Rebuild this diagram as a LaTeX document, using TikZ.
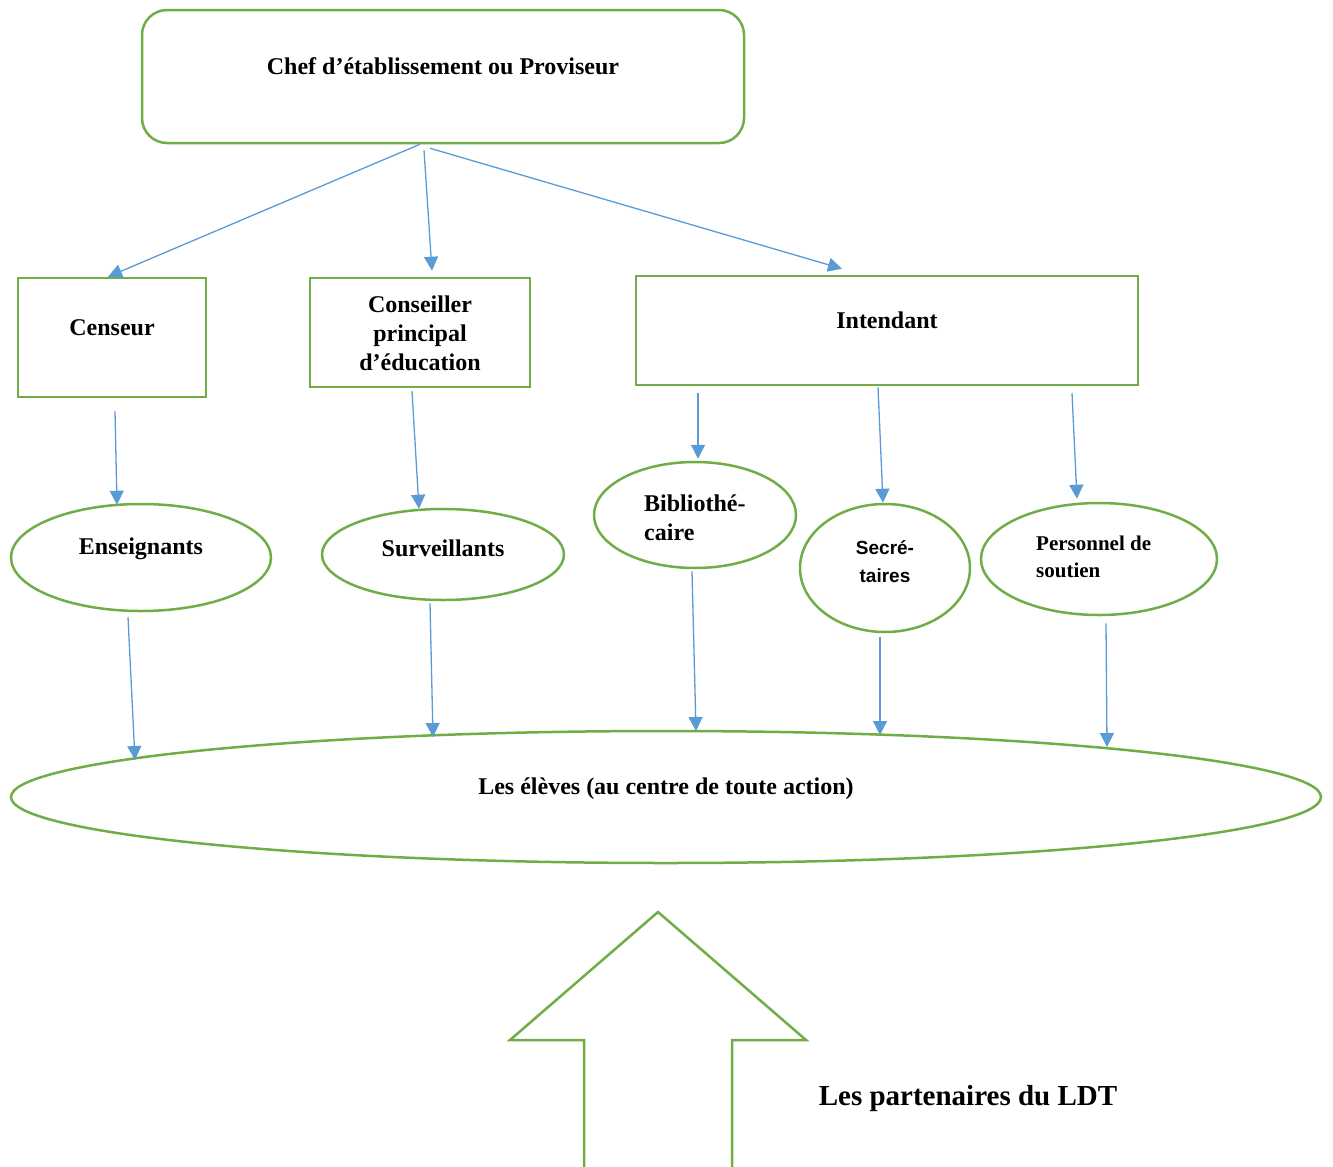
\documentclass[tikz,border=0pt]{standalone}
\usepackage{fontspec}
\setmainfont{Liberation Serif}
\newfontfamily\sansf{Liberation Sans}
\usetikzlibrary{shapes.geometric,arrows.meta}
\definecolor{grn}{HTML}{70AD47}
\definecolor{blu}{HTML}{5B9BD5}
\begin{document}
\begin{tikzpicture}[x=1pt,y=-1pt,
 box/.style={draw=grn,line width=2.5pt,rectangle,inner sep=0pt},
 oval/.style={draw=grn,line width=2.5pt,ellipse,inner sep=0pt},
 txt/.style={font=\fontsize{24}{29}\selectfont\bfseries,inner sep=0pt},
 conn/.style={draw=blu,line width=1.3pt,-{Triangle[length=14pt,width=14pt]}}]
\useasboundingbox (0,0) rectangle (1333,1167);

% boxes
\node[box,rounded corners=25pt,minimum width=602pt,minimum height=133pt] (chef) at (443,76.5) {};
\node[txt] (chefT) at (443,66) {Chef d’établissement ou Proviseur};
\node[box,minimum width=188pt,minimum height=119pt] (censeur) at (112,337.5) {};
\node[txt] (censT) at (112,328) {Censeur};
\node[box,minimum width=220pt,minimum height=109pt] (conseil) at (420,332.5) {};
\node[txt,align=center] (conseilT) at (420,333) {Conseiller\\principal\\d’éducation};
\node[box,minimum width=502pt,minimum height=109pt] (intend) at (887,330.5) {};
\node[txt] (intT) at (887,320) {Intendant};

% ellipses
\node[oval,minimum width=260pt,minimum height=107pt] (ens) at (141,557.5) {};
\node[txt] (ensT) at (141,549) {Enseignants};
\node[oval,minimum width=242pt,minimum height=91pt] (surv) at (443,554.5) {};
\node[txt] (survT) at (443,548) {Surveillants};
\node[oval,minimum width=202pt,minimum height=106pt] (bib) at (695,515) {};
\node[txt,align=left,anchor=west] (bibT) at (644,518) {Bibliothé-\\caire};
\node[oval,minimum width=170pt,minimum height=128pt] (sec) at (885,568) {};
\node[inner sep=0pt,align=center,font=\sansf\fontsize{19}{28}\selectfont\bfseries] (secT) at (885,562) {Secré-\\taires};
\node[oval,minimum width=236pt,minimum height=112pt] (pers) at (1099,559) {};
\node[inner sep=0pt,align=left,anchor=west,font=\fontsize{21}{27}\selectfont\bfseries] (persT) at (1036,557) {Personnel de\\soutien};
\node[oval,minimum width=1310pt,minimum height=132pt] (eleves) at (666,797) {};
\node[txt] (elevT) at (666,789) {Les élèves (au centre de toute action)};

% connectors
\draw[conn] ([xshift=-23pt]chef.south) -- ([xshift=-4pt]censeur.north);
\draw[conn] ([xshift=-19pt,yshift=-6pt]chef.south) -- ([xshift=12pt,yshift=6pt]conseil.north);
\draw[conn] ([xshift=-13pt,yshift=-4pt]chef.south) -- ([xshift=-45pt,yshift=6pt]intend.north);
\draw[conn] ([xshift=3pt,yshift=-13pt]censeur.south) -- ([xshift=-24pt,yshift=-2pt]ens.north);
\draw[conn] ([xshift=-8pt,yshift=-3pt]conseil.south) -- ([xshift=-24pt,yshift=-1pt]surv.north);
\draw[conn] ([xshift=-189pt,yshift=-7pt]intend.south) -- ([xshift=3pt,yshift=2pt]bib.north);
\draw[conn] ([xshift=-9pt,yshift=-1pt]intend.south) -- ([xshift=-2pt]sec.north);
\draw[conn] ([xshift=185pt,yshift=-7pt]intend.south) -- ([xshift=-22pt,yshift=3pt]pers.north);
\draw[conn] ([xshift=-13pt,yshift=-5pt]ens.south) -- ([xshift=-531pt,yshift=37pt]eleves.center);
\draw[conn] ([xshift=-13pt,yshift=-2pt]surv.south) -- ([xshift=-233pt,yshift=60pt]eleves.center);
\draw[conn] ([xshift=-3pt,yshift=-2pt]bib.south) -- ([xshift=30pt,yshift=66pt]eleves.center);
\draw[conn] ([xshift=-5pt,yshift=-4pt]sec.south) -- ([xshift=214pt,yshift=62pt]eleves.center);
\draw[conn] ([xshift=7pt,yshift=-7pt]pers.south) -- ([xshift=441pt,yshift=50pt]eleves.center);

% big arrow
\draw[grn,line width=2.5pt] (584,1167) -- (584,1040) -- (510,1040) -- (658,912) -- (806,1040) -- (732,1040) -- (732,1167);
\node[inner sep=0pt,font=\fontsize{29}{34}\selectfont\bfseries] (partT) at (968,1099) {Les partenaires du LDT};
\end{tikzpicture}
\end{document}
